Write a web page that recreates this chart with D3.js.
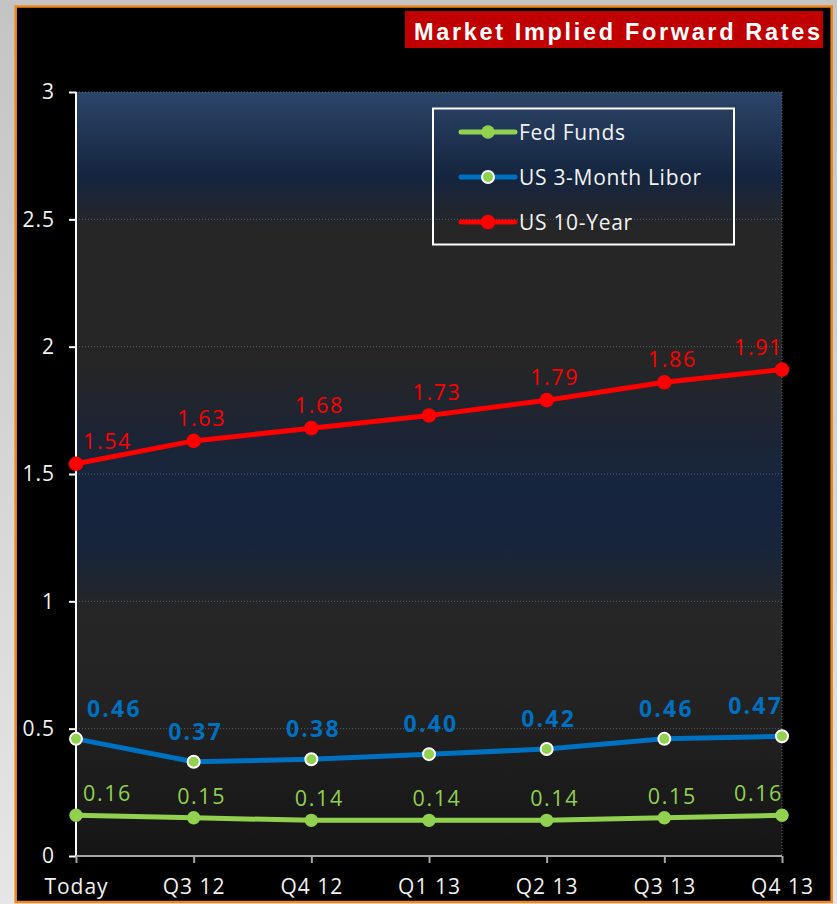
<!DOCTYPE html>
<html>
<head>
<meta charset="utf-8">
<script src="https://cdn.jsdelivr.net/npm/d3@7"></script>
<style>
  html, body { margin: 0; padding: 0; background: #d0d0d0; }
  svg { display: block; }
</style>
</head>
<body>
<svg id="chart" width="837" height="904"></svg>
<script>
// Quarters along the forward curve
const categories = ["Today", "Q3 12", "Q4 12", "Q1 13", "Q2 13", "Q3 13", "Q4 13"];

// Forward rates (%) per series
const fedFunds = [0.16, 0.15, 0.14, 0.14, 0.14, 0.15, 0.16];
const libor3m  = [0.46, 0.37, 0.38, 0.40, 0.42, 0.46, 0.47];
const tenYear  = [1.54, 1.63, 1.68, 1.73, 1.79, 1.86, 1.91];

const seriesNames = ["Fed Funds", "US 3-Month Libor", "US 10-Year"];
const yTicks = [0, 0.5, 1, 1.5, 2, 2.5, 3];
const title = "Market Implied Forward Rates";

const svg = d3.select("#chart");
const W = 837, H = 904;
const plot = { left: 76, right: 782, top: 92, bottom: 856 };

const defs = svg.append("defs");

// page backdrop
const pageGrad = defs.append("linearGradient").attr("id", "pageGrad")
  .attr("x1", 0).attr("y1", 0).attr("x2", 0).attr("y2", 1);
pageGrad.append("stop").attr("offset", "0%").attr("stop-color", "#c4c4c4");
pageGrad.append("stop").attr("offset", "100%").attr("stop-color", "#e6e6e6");

// plot-area fill
const plotGrad = defs.append("linearGradient").attr("id", "plotGrad")
  .attr("x1", 0).attr("y1", 0).attr("x2", 0).attr("y2", 1);
[["0%", "#2b4569"], ["11%", "#15253f"], ["18%", "#262626"], ["35%", "#262626"],
 ["44%", "#1d2433"], ["51%", "#16253e"], ["59%", "#16243c"], ["68%", "#262626"],
 ["80%", "#232323"], ["100%", "#151515"]].forEach(([o, c]) =>
  plotGrad.append("stop").attr("offset", o).attr("stop-color", c));

svg.append("rect").attr("width", W).attr("height", H).attr("fill", "url(#pageGrad)");

// black panel with orange frame
svg.append("rect")
  .attr("x", 15.7).attr("y", 6.5).attr("width", 816).attr("height", 895.5)
  .attr("fill", "#000").attr("stroke", "#f08519").attr("stroke-width", 2.5);

// title banner
svg.append("rect").attr("x", 405).attr("y", 11).attr("width", 418).attr("height", 37)
  .attr("fill", "#c00000");
svg.append("text").attr("x", 414).attr("y", 40)
  .attr("font-family", "'Liberation Sans', Arial, sans-serif").attr("font-weight", "bold")
  .attr("font-size", 23.5).attr("fill", "#ffffff")
  .attr("textLength", 406).attr("lengthAdjust", "spacing")
  .text(title);

const x = d3.scalePoint().domain(categories).range([plot.left, plot.right]);
const y = d3.scaleLinear().domain([0, 3]).range([plot.bottom, plot.top]);

// plot background
svg.append("rect")
  .attr("x", plot.left).attr("y", plot.top)
  .attr("width", plot.right - plot.left).attr("height", plot.bottom - plot.top)
  .attr("fill", "url(#plotGrad)");

// dotted gridlines
svg.append("g").selectAll("line").data(yTicks.filter(t => t > 0))
  .join("line")
  .attr("x1", plot.left).attr("x2", plot.right)
  .attr("y1", d => y(d)).attr("y2", d => y(d))
  .attr("stroke", "#5a5f68").attr("stroke-width", 1).attr("stroke-dasharray", "1,2");
svg.append("line")
  .attr("x1", plot.right).attr("x2", plot.right)
  .attr("y1", plot.top).attr("y2", plot.bottom)
  .attr("stroke", "#5a5f68").attr("stroke-width", 1).attr("stroke-dasharray", "1,2");

// y axis
const yAxis = svg.append("g").attr("transform", `translate(${plot.left},0)`)
  .call(d3.axisLeft(y).tickValues(yTicks).tickFormat(d3.format("")).tickSize(7).tickPadding(14));
yAxis.select(".domain").attr("stroke", "#ffffff").attr("stroke-width", 2)
  .attr("d", `M0,${plot.top}V${plot.bottom}`);
yAxis.selectAll(".tick line").attr("stroke", "#ffffff").attr("stroke-width", 2);
yAxis.selectAll(".tick text")
  .attr("fill", "#f2f2f2").attr("font-family", "'Open Sans', sans-serif")
  .attr("font-size", 21).attr("letter-spacing", 1);

// x axis
const xAxis = svg.append("g").attr("transform", `translate(0,${plot.bottom})`)
  .call(d3.axisBottom(x).tickSize(7).tickPadding(12));
xAxis.select(".domain").attr("stroke", "#a6a6a6").attr("stroke-width", 2)
  .attr("d", `M${plot.left},0H${plot.right}`);
xAxis.selectAll(".tick line").attr("stroke", "#a6a6a6").attr("stroke-width", 2);
xAxis.selectAll(".tick text")
  .attr("fill", "#f2f2f2").attr("font-family", "'Open Sans', sans-serif")
  .attr("font-size", 21).attr("letter-spacing", 1).attr("dy", "0.9em");

const series = [
  { name: seriesNames[0], values: fedFunds, color: "#92d050", fill: "#92d050", stroke: "none", r: 6.7,
    label: { color: "#92d050", weight: "normal", size: 21.5, spacing: 1.6, dx: 8, lift: 14, inset: 7 } },
  { name: seriesNames[1], values: libor3m, color: "#0070c0", fill: "#92d050", stroke: "#ffffff", r: 6,
    label: { color: "#0070c0", weight: "bold", size: 23, spacing: 2.2, dx: 2, lift: 22, inset: 11 } },
  { name: seriesNames[2], values: tenYear, color: "#ff0000", fill: "#ff0000", stroke: "none", r: 7.3,
    label: { color: "#ff0000", weight: "normal", size: 21.5, spacing: 1.6, dx: 8, lift: 15, inset: 7 } }
];

const line = d3.line().x((d, i) => x(categories[i])).y(d => y(d));

series.forEach(s => {
  const g = svg.append("g");
  g.append("path").datum(s.values)
    .attr("d", line).attr("fill", "none")
    .attr("stroke", s.color).attr("stroke-width", 5).attr("stroke-linejoin", "round");
  g.selectAll("circle").data(s.values).join("circle")
    .attr("cx", (d, i) => x(categories[i])).attr("cy", d => y(d))
    .attr("r", s.r).attr("fill", s.fill)
    .attr("stroke", s.stroke).attr("stroke-width", s.stroke === "none" ? 0 : 2);

  // value labels, kept inside the plot area
  g.selectAll("text").data(s.values).join("text")
    .attr("font-family", "'Open Sans', sans-serif")
    .attr("font-size", s.label.size).attr("font-weight", s.label.weight)
    .attr("letter-spacing", s.label.spacing)
    .attr("fill", s.label.color)
    .attr("text-anchor", "start")
    .attr("y", d => y(d) - s.label.lift)
    .text(d => d.toFixed(2))
    .each(function(d, i) {
      const w = this.getComputedTextLength();
      let cx = x(categories[i]) + s.label.dx;
      cx = Math.max(plot.left + s.label.inset + w / 2, Math.min(plot.right + 1 - w / 2, cx));
      d3.select(this).attr("x", cx - w / 2);
    });
});

// legend
const lg = svg.append("g");
lg.append("rect").attr("x", 433).attr("y", 108.5).attr("width", 301).attr("height", 136)
  .attr("fill", "none").attr("stroke", "#ffffff").attr("stroke-width", 2);
const rowY = [132, 177, 222];
series.forEach((s, i) => {
  const ry = rowY[i];
  lg.append("line").attr("x1", 461).attr("x2", 515).attr("y1", ry).attr("y2", ry)
    .attr("stroke", s.color).attr("stroke-width", 5).attr("stroke-linecap", "round");
  lg.append("circle").attr("cx", 488).attr("cy", ry).attr("r", s.r)
    .attr("fill", s.fill).attr("stroke", s.stroke)
    .attr("stroke-width", s.stroke === "none" ? 0 : 2);
  lg.append("text").attr("x", 519).attr("y", ry).attr("dy", "0.36em")
    .attr("font-family", "'Open Sans', sans-serif").attr("font-size", 21)
    .attr("letter-spacing", 0.7).attr("fill", "#f2f2f2")
    .text(s.name);
});
</script>
</body>
</html>
